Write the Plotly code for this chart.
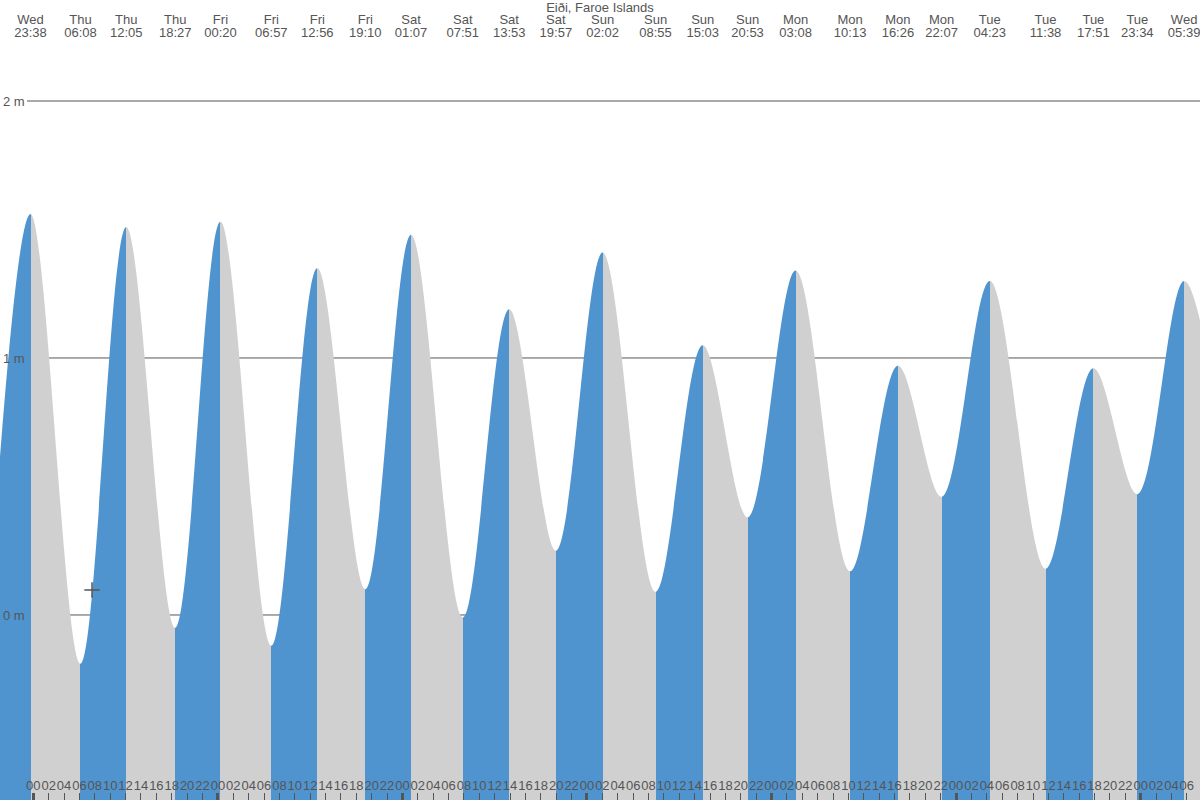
import plotly.graph_objects as go
import pandas as pd

TITLE = "Eiði, Faroe Islands"

# Tide extremes (high / low); first and last lie just outside the visible range
EXTREME_TIMES = [
    "2024-01-03 17:55", "2024-01-03 23:38",
    "2024-01-04 06:08", "2024-01-04 12:05", "2024-01-04 18:27",
    "2024-01-05 00:20", "2024-01-05 06:57", "2024-01-05 12:56", "2024-01-05 19:10",
    "2024-01-06 01:07", "2024-01-06 07:51", "2024-01-06 13:53", "2024-01-06 19:57",
    "2024-01-07 02:02", "2024-01-07 08:55", "2024-01-07 15:03", "2024-01-07 20:53",
    "2024-01-08 03:08", "2024-01-08 10:13", "2024-01-08 16:26", "2024-01-08 22:07",
    "2024-01-09 04:23", "2024-01-09 11:38", "2024-01-09 17:51", "2024-01-09 23:34",
    "2024-01-10 05:39", "2024-01-10 11:50",
]
EXTREME_HEIGHTS = [
    -0.12, 1.56,
    -0.19, 1.51, -0.05,
    1.53, -0.12, 1.35, 0.10,
    1.48, -0.01, 1.19, 0.25,
    1.41, 0.09, 1.05, 0.38,
    1.34, 0.17, 0.97, 0.46,
    1.30, 0.18, 0.96, 0.47,
    1.30, 0.40,
]
LABELED_TIMES = EXTREME_TIMES[:-1]

NOW_TIME = ["2024-01-04 07:38"]
NOW_HEIGHT = [0.097]

X_RANGE = ["2024-01-03 19:40", "2024-01-10 07:43"]
Y_RANGE = [-0.72, 2.393]
Y_TICKS = [0, 1, 2]
Y_TICK_LABELS = ["0 m", "1 m", "2 m"]
HOUR_TICK0 = "2024-01-04 00:00"

BLUE = "#4f94cf"
GREY = "#d0d0d0"
TEXT = "#555555"
FONT = "Liberation Sans, Arial, sans-serif"

# colour bands: rising = blue, falling = grey
t = pd.to_datetime(pd.Series(EXTREME_TIMES))
ms = (t.astype("int64") // 10**6).tolist()
t0, t1 = ms[0], ms[-1]
colorscale = []
for i in range(len(ms) - 1):
    c = BLUE if EXTREME_HEIGHTS[i + 1] > EXTREME_HEIGHTS[i] else GREY
    f0 = (ms[i] - t0) / (t1 - t0)
    f1 = (ms[i + 1] - t0) / (t1 - t0)
    colorscale.append([f0, c])
    colorscale.append([f1, c])
colorscale[0][0] = 0.0
colorscale[-1][0] = 1.0

fig = go.Figure()
fig.add_trace(go.Scatter(
    x=[EXTREME_TIMES[0], EXTREME_TIMES[-1]], y=[Y_RANGE[0] - 1, Y_RANGE[0] - 1],
    mode="lines", line=dict(width=0), hoverinfo="skip", showlegend=False,
))
fig.add_trace(go.Scatter(
    x=EXTREME_TIMES, y=EXTREME_HEIGHTS, mode="lines",
    line=dict(shape="spline", width=0, color=BLUE),
    fill="tonexty",
    fillgradient=dict(type="horizontal", colorscale=colorscale, start=t0, stop=t1),
    hoverinfo="skip", showlegend=False,
))
fig.add_trace(go.Scatter(
    x=NOW_TIME, y=NOW_HEIGHT, mode="markers",
    marker=dict(symbol="cross-thin", size=11, line=dict(color=TEXT, width=1.5)),
    hoverinfo="skip", showlegend=False,
))
# dummy traces so the extra axes render
fig.add_trace(go.Scatter(x=X_RANGE, y=[None, None], xaxis="x2", showlegend=False))
fig.add_trace(go.Scatter(x=X_RANGE, y=[None, None], xaxis="x3", showlegend=False))
fig.add_trace(go.Scatter(x=X_RANGE, y=[None, None], xaxis="x4", showlegend=False))

for v in Y_TICKS:
    fig.add_shape(type="line", xref="paper", x0=0.0225, x1=1, yref="y", y0=v, y1=v,
                  line=dict(color=TEXT, width=1), layer="below")

tickfont = dict(family=FONT, size=13, color=TEXT)
fig.update_layout(
    width=1200, height=800,
    margin=dict(l=0, r=0, t=0, b=0, autoexpand=False),
    paper_bgcolor="white", plot_bgcolor="white",
    title=dict(text=TITLE, x=0.5, xanchor="center", y=1 - 7 / 800, yanchor="middle",
               yref="container", font=dict(family=FONT, size=13, color=TEXT)),
    xaxis=dict(type="date", range=X_RANGE, tickformat="%H", dtick=7200000, tick0=HOUR_TICK0,
               ticks="inside", ticklen=7, tickwidth=1, tickcolor=TEXT, tickangle=0,
               ticklabelposition="inside", tickfont=tickfont, automargin=False,
               showgrid=False, showline=False, zeroline=False),
    xaxis4=dict(type="date", overlaying="x", matches="x", anchor="y", side="bottom",
                dtick=86400000, tick0=HOUR_TICK0, ticks="inside", ticklen=7, tickwidth=3,
                tickcolor=TEXT, showticklabels=False, showgrid=False, showline=False, zeroline=False),
    xaxis2=dict(type="date", overlaying="x", matches="x", side="top", anchor="free",
                position=1 - 27 / 800, tickmode="array", tickvals=LABELED_TIMES, tickformat="%a",
                ticks="", tickfont=tickfont, tickangle=0, ticklabeloverflow="allow",
                automargin=False, showgrid=False, showline=False, zeroline=False),
    xaxis3=dict(type="date", overlaying="x", matches="x", side="top", anchor="free",
                position=1 - 40 / 800, tickmode="array", tickvals=LABELED_TIMES, tickformat="%H:%M",
                ticks="", tickfont=tickfont, tickangle=0, ticklabeloverflow="allow",
                automargin=False, showgrid=False, showline=False, zeroline=False),
    yaxis=dict(range=Y_RANGE, tickmode="array", tickvals=Y_TICKS, ticktext=Y_TICK_LABELS,
               ticks="", ticklabelposition="inside", tickfont=tickfont, automargin=False,
               showgrid=False, showline=False, zeroline=False),
)

fig.write_html(
    "out.html",
    config={"displayModeBar": False},
    post_script="document.body.style.margin='0';document.body.style.overflow='hidden';",
)
